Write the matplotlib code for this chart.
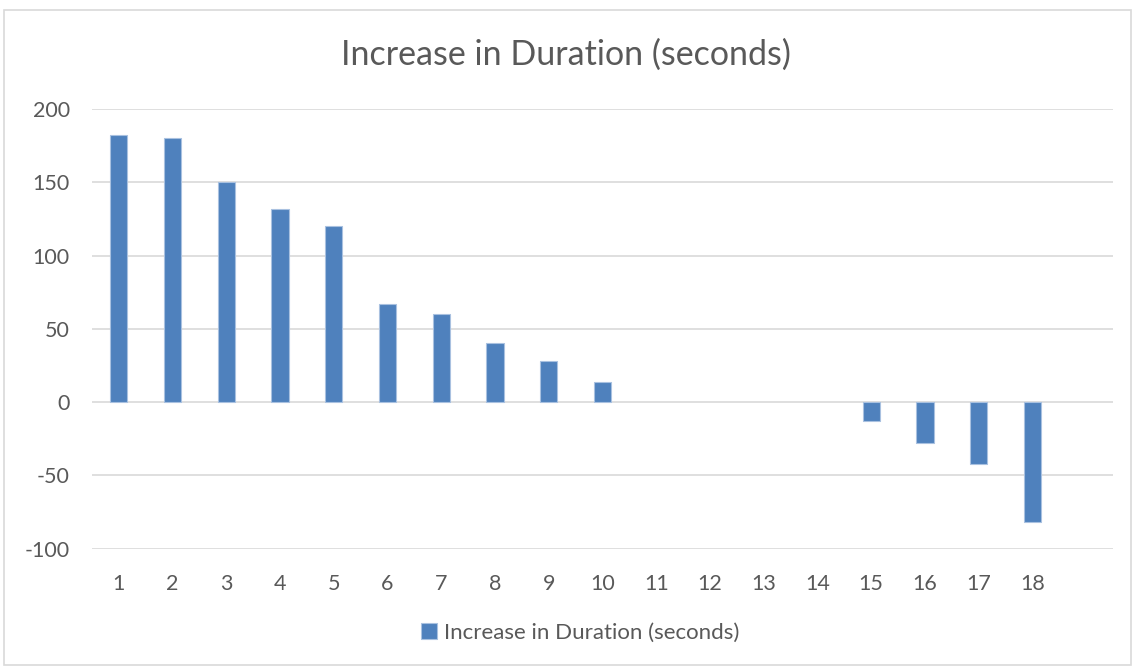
import matplotlib.pyplot as plt
from matplotlib.patches import Rectangle

# data
categories = [str(i) for i in range(1, 19)] + [""]
values = [182, 180, 150, 132, 120, 67, 60, 40, 28, 14, 0, 0, 0, 0, -13, -28, -42, -82, 0]
series_name = "Increase in Duration (seconds)"
yticks = [-100, -50, 0, 50, 100, 150, 200]

plt.rcParams['font.family'] = ['Lato', 'DejaVu Sans']
plt.rcParams['axes.unicode_minus'] = False

fig = plt.figure(figsize=(11.32, 6.66), dpi=100)
ax = fig.add_axes([92 / 1132, 1 - 548.6 / 666, (1113 - 92) / 1132, (548.6 - 109) / 666])

# outer chart border like the Excel chart area
fig.patches.append(Rectangle((4 / 1132, 0.002), 1 - 5 / 1132, 1 - 10 / 666 - 0.002,
                             transform=fig.transFigure, fill=False,
                             edgecolor='#d9d9d9', linewidth=1.2))

x = list(range(len(categories)))
edges = ['#a9c1e0' if v != 0 else 'none' for v in values]
bars = ax.bar(x, values, width=0.32, color='#4f81bd', edgecolor=edges,
              linewidth=0.8, label=series_name, zorder=3)

ax.set_xlim(-0.5, len(categories) - 0.5)
ax.set_ylim(-100, 200)
ax.set_yticks(yticks)
ax.set_xticks(x)
ax.set_xticklabels(categories)
ax.grid(axis='y', color='#d9d9d9', linewidth=1.2, zorder=0)
ax.set_axisbelow(True)
for s in ax.spines.values():
    s.set_visible(False)
ax.tick_params(length=0, labelsize=15.5, colors='#595959')
ax.tick_params(axis='x', pad=18)
ax.tick_params(axis='y', pad=16)

fig.text(0.5, 1 - 55 / 666, "Increase in Duration (seconds)", ha='center', va='center',
         fontsize=24.5, color='#595959')

leg = fig.legend(handles=[bars[0]], labels=[series_name], loc='center',
                 bbox_to_anchor=(580 / 1132, 1 - 633 / 666), frameon=False,
                 fontsize=16, handlelength=0.75, handleheight=0.75, handletextpad=0.3)
for t in leg.get_texts():
    t.set_color('#595959')

fig.savefig('out.png', dpi=100)
